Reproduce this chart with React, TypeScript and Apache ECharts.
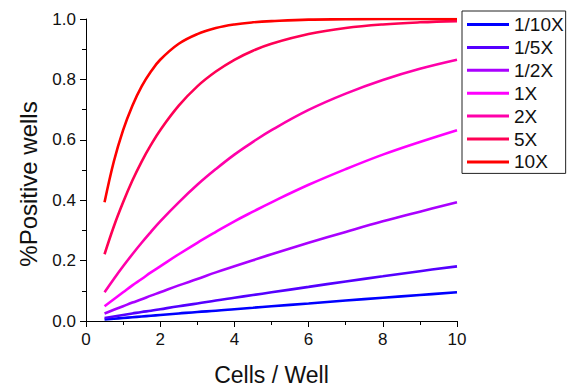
import React, { useEffect, useRef } from "react";
import * as echarts from "echarts";

// Cells per well at which the curves are sampled
const cellsPerWell = [0.5, 0.75, 1, 1.25, 1.5, 1.75, 2, 2.5, 3, 3.5, 4, 4.5, 5, 6, 7, 8, 9, 10];

const seriesNames = ["1/10X", "1/5X", "1/2X", "1X", "2X", "5X", "10X"];
const seriesColors = ["#0000ff", "#5500ff", "#aa00ff", "#ff00ff", "#ff00aa", "#ff0055", "#ff0000"];

// Fraction of positive wells for each dilution
const tenthX = [0.005, 0.0075, 0.01, 0.0125, 0.015, 0.0175, 0.02, 0.025, 0.03, 0.034, 0.039, 0.044, 0.049, 0.058, 0.068, 0.077, 0.086, 0.095];
const fifthX = [0.01, 0.015, 0.02, 0.025, 0.03, 0.034, 0.039, 0.049, 0.058, 0.068, 0.077, 0.086, 0.095, 0.113, 0.131, 0.148, 0.165, 0.181];
const halfX = [0.025, 0.037, 0.049, 0.061, 0.072, 0.084, 0.095, 0.118, 0.139, 0.161, 0.181, 0.201, 0.221, 0.259, 0.295, 0.33, 0.362, 0.393];
const oneX = [0.049, 0.072, 0.095, 0.118, 0.139, 0.161, 0.181, 0.221, 0.259, 0.295, 0.33, 0.362, 0.393, 0.451, 0.503, 0.551, 0.593, 0.632];
const twoX = [0.095, 0.139, 0.181, 0.221, 0.259, 0.295, 0.33, 0.393, 0.451, 0.503, 0.551, 0.593, 0.632, 0.699, 0.753, 0.798, 0.835, 0.865];
const fiveX = [0.221, 0.313, 0.393, 0.465, 0.528, 0.583, 0.632, 0.713, 0.777, 0.826, 0.865, 0.895, 0.918, 0.95, 0.97, 0.982, 0.989, 0.993];
const tenX = [0.393, 0.528, 0.632, 0.713, 0.777, 0.826, 0.865, 0.918, 0.95, 0.97, 0.982, 0.989, 0.993, 0.998, 0.999, 1.0, 1.0, 1.0];

const allValues = [tenthX, fifthX, halfX, oneX, twoX, fiveX, tenX];

const FONT = "Liberation Sans, Arial, sans-serif";

export default function App() {
  const ref = useRef<HTMLDivElement>(null);

  useEffect(() => {
    if (!ref.current) return;
    const chart = echarts.init(ref.current, undefined, { renderer: "svg" });

    const series = allValues.map((vals, i) => ({
      name: seriesNames[i],
      type: "line",
      data: vals.map((v, j) => [cellsPerWell[j], v]),
      smooth: 0.4,
      showSymbol: false,
      symbol: "none",
      lineStyle: { width: 2.6, color: seriesColors[i] },
      itemStyle: { color: seriesColors[i] },
      z: 2 + i,
    }));

    chart.setOption({
      animation: false,
      backgroundColor: "#ffffff",
      textStyle: { fontFamily: FONT },
      grid: { left: 86, right: 115, top: 19, bottom: 70, containLabel: false },
      legend: {
        orient: "vertical",
        left: 462,
        top: 11,
        data: seriesNames,
        icon: "rect",
        itemWidth: 42,
        itemHeight: 3,
        itemGap: 3.9,
        padding: [4, 2, 2, 5],
        borderColor: "#222",
        borderWidth: 1,
        textStyle: { fontFamily: FONT, fontSize: 19, color: "#111" },
        itemTextGap: 5,
      },
      graphic: [
        {
          type: "text",
          x: 28,
          y: 184,
          rotation: Math.PI / 2,
          style: {
            text: "%Positive wells",
            fontFamily: FONT,
            fontSize: 24,
            fill: "#111",
            align: "center",
            verticalAlign: "middle",
          },
        },
      ],
      xAxis: {
        type: "value",
        min: 0,
        max: 10,
        interval: 2,
        name: "Cells / Well",
        nameLocation: "middle",
        nameGap: 42,
        nameTextStyle: { fontFamily: FONT, fontSize: 23, color: "#111" },
        axisLine: { show: true, onZero: false, lineStyle: { color: "#000", width: 1 } },
        axisTick: { show: true, inside: false, length: 6, lineStyle: { color: "#000" } },
        minorTick: { show: true, splitNumber: 2, length: 4, lineStyle: { color: "#000" } },
        splitLine: { show: false },
        axisLabel: { fontFamily: FONT, fontSize: 17, color: "#111", margin: 10 },
      },
      yAxis: {
        type: "value",
        min: 0,
        max: 1,
        interval: 0.2,
        axisLine: { show: true, onZero: false, lineStyle: { color: "#000", width: 1 } },
        axisTick: { show: true, inside: false, length: 6, lineStyle: { color: "#000" } },
        minorTick: { show: true, splitNumber: 2, length: 4, lineStyle: { color: "#000" } },
        splitLine: { show: false },
        axisLabel: {
          fontFamily: FONT,
          fontSize: 17,
          color: "#111",
          margin: 10,
          formatter: (v: number) => v.toFixed(1),
        },
      },
      series,
    });

    return () => chart.dispose();
  }, []);

  return <div ref={ref} style={{ width: 572, height: 391, position: "absolute", left: 0, top: 0 }} />;
}
